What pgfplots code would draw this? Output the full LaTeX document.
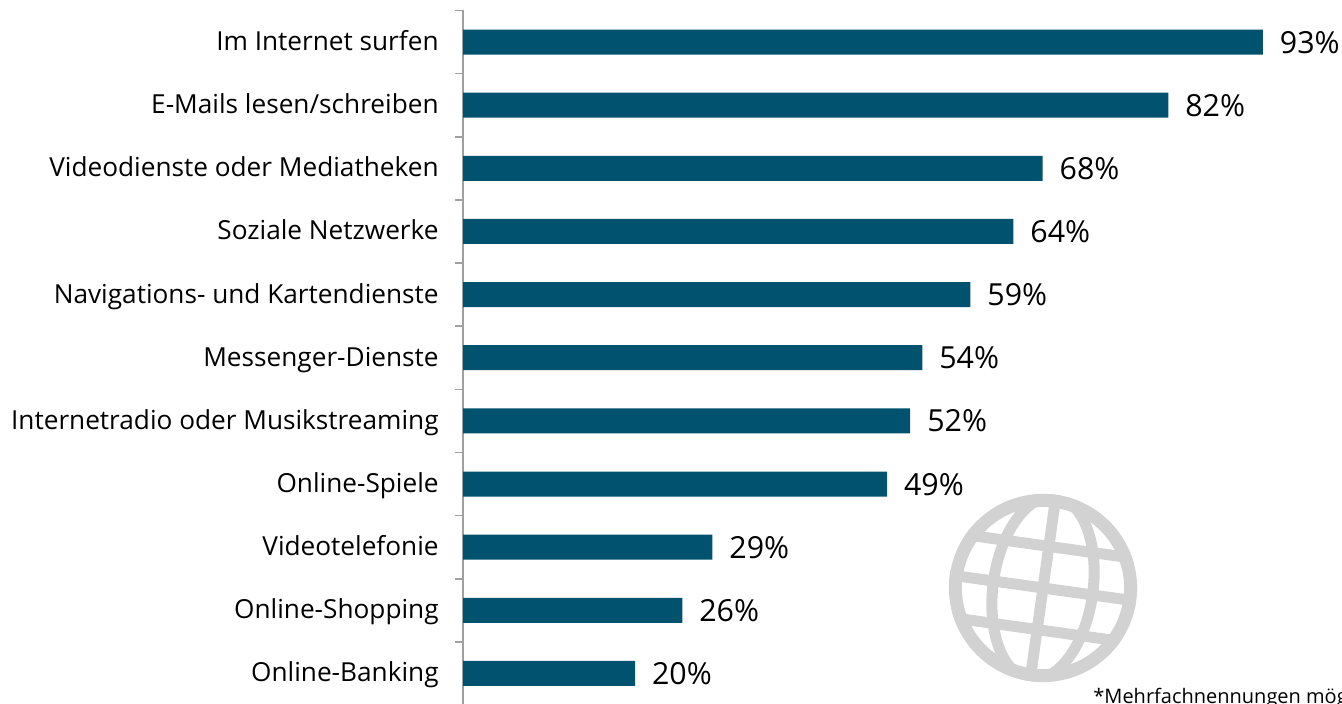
\documentclass[border=0pt]{standalone}
\usepackage{pgfplots}
\usepackage{pgfplotstable}
\usepackage{fontspec}
\pgfplotsset{compat=1.18}
\setmainfont{Open Sans}
\definecolor{barblue}{HTML}{01526F}
\definecolor{axisgrey}{HTML}{A0A0A0}
\definecolor{globegrey}{HTML}{D2D2D2}

% 1 px of the reference = 0.5pt
\pgfplotstableread{
row len lab
0   93.0 93
1   82.0 82
2   67.4 68
3   64.0 64
4   59.0 59
5   53.4 54
6   52.0 52
7   49.3 49
8   29.0 29
9   25.5 26
10  20.0 20
}\usage

\begin{document}
\begin{tikzpicture}
\path[use as bounding box] (0,0) rectangle (671pt,352pt);
\clip (0,0) rectangle (671pt,352pt);
\begin{axis}[
    at={(231.5pt,-0.5pt)},
    anchor=south west,
    scale only axis,
    width=439.5pt,
    height=347.25pt,
    clip=false,
    xbar,
    bar width=12.5pt,
    bar shift=0pt,
    xmin=0,
    xmax=102.2,
    ymin=-0.5,
    ymax=10.5,
    y dir=reverse,
    hide x axis,
    axis y line*=left,
    y axis line style={draw=axisgrey,line width=1pt,-},
    ytick={0,...,10},
    yticklabels={Im Internet surfen,E-Mails lesen/schreiben,Videodienste oder Mediatheken,Soziale Netzwerke,Navigations- und Kartendienste,Messenger-Dienste,Internetradio oder Musikstreaming,Online-Spiele,Videotelefonie,Online-Shopping,Online-Banking},
    major tick length=0pt,
    minor tick length=4pt,
    minor ytick={-0.5,0.5,...,10.5},
    tick align=outside,
    ytick style={draw=axisgrey,line width=0.8pt},
    yticklabel style={anchor=east,inner sep=0pt,xshift=-12pt,text height=10pt,text depth=1.6pt,font=\fontsize{13.1}{16}\selectfont,text=black},
    point meta=explicit symbolic,
    nodes near coords={\pgfplotspointmeta\%},
    nodes near coords align={horizontal},
    every node near coord/.append style={anchor=west,inner sep=0pt,xshift=8.3pt,text height=12pt,text depth=1pt,font=\fontsize{15.2}{18}\selectfont,text=black},
]
\addplot[fill=barblue,draw=none] table[x=len,y=row,meta=lab] {\usage};
\end{axis}
% globe icon
\begin{scope}[shift={(521.5pt,58pt)},rotate=-8]
\begin{scope}
\clip (0,0) circle (47pt);
\draw[globegrey,line width=5.5pt] (0,-47pt) -- (0,47pt);
\draw[globegrey,line width=5.5pt] (-47pt,0) -- (47pt,0);
\draw[globegrey,line width=5.5pt] (-47pt,21pt) -- (47pt,21pt);
\draw[globegrey,line width=5.5pt] (-47pt,-21pt) -- (47pt,-21pt);
\draw[globegrey,line width=5.5pt] (0,0) ellipse (25pt and 46pt);
\end{scope}
\draw[globegrey,line width=6.5pt] (0,0) circle (43.8pt);
\end{scope}
\node[anchor=base west,inner sep=0pt,font=\fontsize{10}{12}\selectfont,text=black] at (546.5pt,0pt) {*Mehrfachnennungen möglich};
\end{tikzpicture}
\end{document}
